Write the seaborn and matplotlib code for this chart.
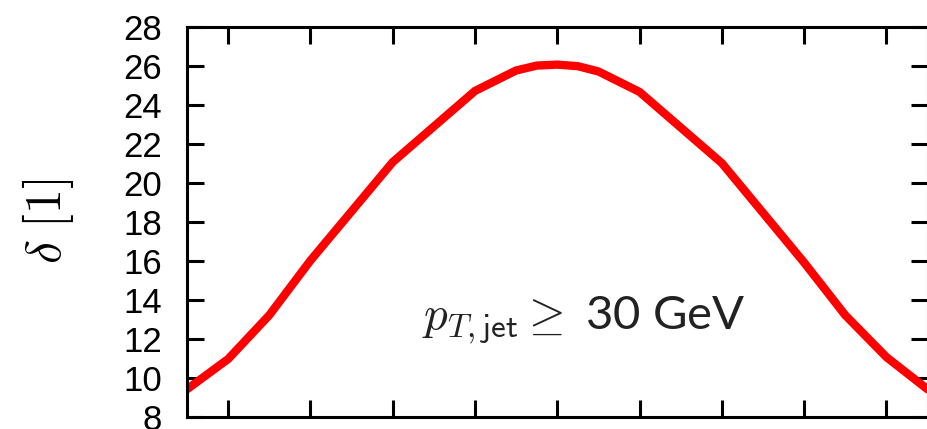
import numpy as np
import pandas as pd
import seaborn as sns
import matplotlib
matplotlib.use("Agg")
import matplotlib.pyplot as plt

# values
eta = [-4.5, -4.0, -3.5, -3.0, -2.0, -1.0, -0.5, -0.25, 0.0, 0.25, 0.5, 1.0, 2.0, 3.0, 3.5, 4.0, 4.5]
delta = [9.4, 10.95, 13.2, 16.0, 21.05, 24.7, 25.75, 26.0, 26.05, 25.97, 25.7, 24.65, 21.0, 15.9, 13.2, 11.05, 9.4]
xticks = [-4, -3, -2, -1, 0, 1, 2, 3, 4]
yticks = [8, 10, 12, 14, 16, 18, 20, 22, 24, 26, 28]

sns.set_style("ticks")
plt.rcParams['font.family'] = ['Liberation Sans', 'DejaVu Sans']
plt.rcParams['mathtext.fontset'] = 'cm'

df = pd.DataFrame({"eta": eta, "delta": delta})

fig = plt.figure(figsize=(9.28, 4.29), dpi=100)
ax = fig.add_axes([0.2015, 0.029, 0.798, 0.909])

sns.lineplot(data=df, x="eta", y="delta", color="#ff0000", lw=6, ax=ax,
             solid_joinstyle="miter")

ax.set_xlim(-4.5, 4.5)
ax.set_ylim(8, 28)
ax.set_xticks(xticks)
ax.set_yticks(yticks)
ax.set_xticklabels([])
ax.set_yticklabels([str(t) for t in yticks], fontsize=25, color="black")
ax.tick_params(direction="in", length=12, width=2.2, top=True, right=True,
               colors="black")
ax.tick_params(axis="y", pad=18)
for s in ax.spines.values():
    s.set_linewidth(2.2)
    s.set_color("black")

ax.set_xlabel("")
ax.set_ylabel(r"$\delta\ [1]$", fontsize=36, labelpad=34, color="black")

# annotation: math part in CM, the rest in a plain sans
ax.text(0.32, 12.45, r"$p_{T,\mathsf{jet}} \geq$ 30 GeV",
        fontsize=34, color="#222222", ha="center", va="baseline",
        family=["Lato", "DejaVu Sans"])

fig.savefig("out.png", dpi=100)
